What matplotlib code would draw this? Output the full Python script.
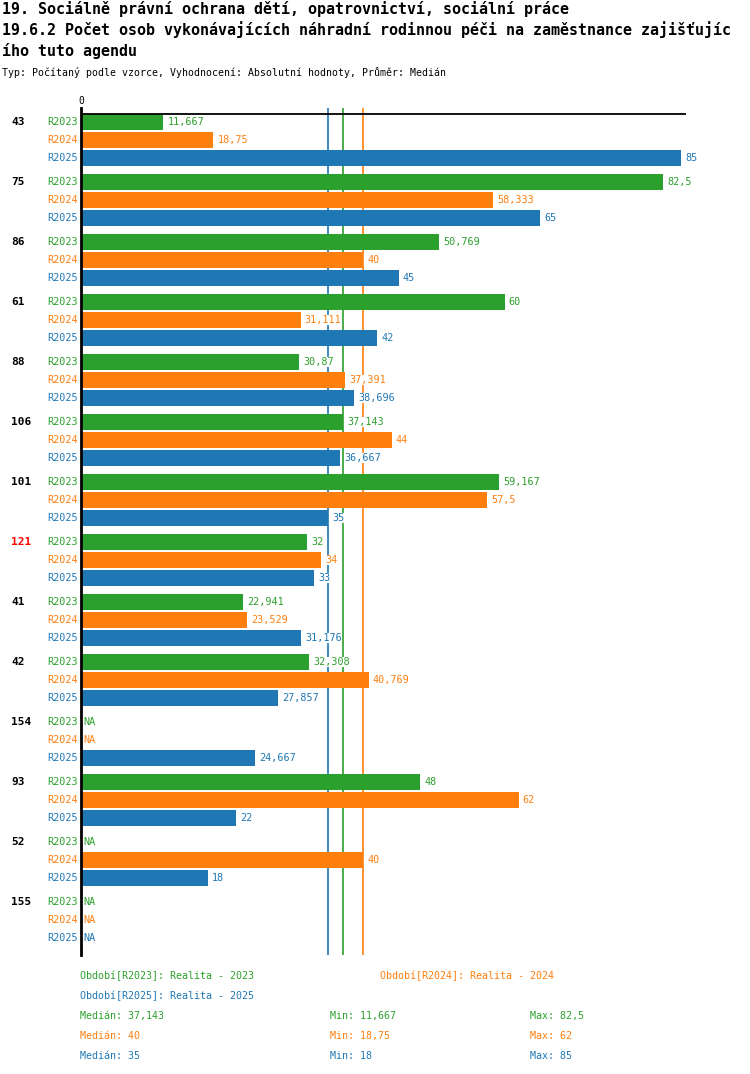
import matplotlib
matplotlib.use("Agg")
import matplotlib.pyplot as plt
import numpy as np

plt.rcParams['font.family'] = ['DejaVu Sans Mono']

groups = ["43", "75", "86", "61", "88", "106", "101", "121", "41", "42", "154", "93", "52", "155"]
series = ["R2023", "R2024", "R2025"]
r2023 = [11.667, 82.5, 50.769, 60, 30.87, 37.143, 59.167, 32, 22.941, 32.308, None, 48, None, None]
r2024 = [18.75, 58.333, 40, 31.111, 37.391, 44, 57.5, 34, 23.529, 40.769, None, 62, 40, None]
r2025 = [85, 65, 45, 42, 38.696, 36.667, 35, 33, 31.176, 27.857, 24.667, 22, 18, None]
highlight = ["121"]
colors = ["#2ca02c", "#ff7f0e", "#1f77b4"]
legend_names = ["Období[R2023]: Realita - 2023", "Období[R2024]: Realita - 2024", "Období[R2025]: Realita - 2025"]

title1 = "19. Sociálně právní ochrana dětí, opatrovnictví, sociální práce"
title2 = "19.6.2 Počet osob vykonávajících náhradní rodinnou péči na zaměstnance zajišťujíc"
title3 = "ího tuto agendu"
subtitle = "Typ: Počítaný podle vzorce, Vyhodnocení: Absolutní hodnoty, Průměr: Medián"

def fmt(v):
    s = ("%.3f" % v).rstrip("0").rstrip(".")
    return s.replace(".", ",")

W, H = 750, 1074
fig = plt.figure(figsize=(W / 100, H / 100), dpi=100)
ax_l, ax_r, ax_t, ax_b = 81, 686, 108, 955
ax = fig.add_axes([ax_l / W, 1 - ax_b / H, (ax_r - ax_l) / W, (ax_b - ax_t) / H])

data = [r2023, r2024, r2025]
gpitch, spitch = 10.0, 3.0
bar_h = 2.667
xmax = 85.7
ax.set_xlim(0, xmax)
ax.set_ylim((ax_b - 122) / 6.0, -(122 - ax_t) / 6.0)

bbox = dict(facecolor="white", edgecolor="none", pad=0.3)
for gi, g in enumerate(groups):
    for si, vals in enumerate(data):
        y = gi * gpitch + si * spitch
        v = vals[gi]
        c = colors[si]
        if v is not None:
            ax.barh(y, v, height=bar_h, color=c, zorder=2)
            ax.annotate(fmt(v), (v, y), xytext=(3, 0), textcoords="offset points",
                        ha="left", va="center", color=c, fontsize=7.3, zorder=5, bbox=bbox)
        else:
            ax.annotate("NA", (0, y), xytext=(2, 0), textcoords="offset points",
                        ha="left", va="center", color=c, fontsize=7.3)
        ax.annotate(series[si], (0, y), xytext=(-2.5, 0), textcoords="offset points",
                    ha="right", va="center", color=c, fontsize=7.3)
    ax.annotate(g, (0, gi * gpitch), xytext=(-70, 0), textcoords="offset pixels",
                ha="left", va="center", fontsize=8, fontweight="bold",
                color="red" if g in highlight else "black")

def median(vals):
    v = [x for x in vals if x is not None]
    return float(np.median(v))

stats = []
for si, vals in enumerate(data):
    v = [x for x in vals if x is not None]
    med = median(vals)
    stats.append((med, min(v), max(v)))
    ax.axvline(med, color=colors[si], lw=1.2, zorder=1)

ax.axhline(-(122 - 114) / 6.0, color="black", lw=1.3, zorder=4)
for s in ["top", "right", "bottom"]:
    ax.spines[s].set_visible(False)
ax.spines["left"].set_linewidth(2)
ax.spines["left"].set_zorder(6)
ax.set_yticks([])
ax.set_xticks([])
ax.text(0, 1.002, "0", transform=ax.get_xaxis_transform(), ha="center", va="bottom", fontsize=7)

# titles
fig.text(2 / W, 1 - 9 / H, title1, ha="left", va="center", fontsize=10.8, fontweight="bold")
fig.text(2 / W, 1 - 30 / H, title2, ha="left", va="center", fontsize=10.8, fontweight="bold")
fig.text(2 / W, 1 - 51 / H, title3, ha="left", va="center", fontsize=10.8, fontweight="bold")
fig.text(2 / W, 1 - 73 / H, subtitle, ha="left", va="center", fontsize=7.1)

# legend
fig.text(80 / W, 1 - 976 / H, legend_names[0], color=colors[0], ha="left", va="center", fontsize=7.2)
fig.text(380 / W, 1 - 976 / H, legend_names[1], color=colors[1], ha="left", va="center", fontsize=7.2)
fig.text(80 / W, 1 - 996 / H, legend_names[2], color=colors[2], ha="left", va="center", fontsize=7.2)
for si in range(3):
    yy = 1 - (1016 + 20 * si) / H
    med, mn, mx = stats[si]
    fig.text(80 / W, yy, "Medián: " + fmt(med), color=colors[si], ha="left", va="center", fontsize=7.2)
    fig.text(330 / W, yy, "Min: " + fmt(mn), color=colors[si], ha="left", va="center", fontsize=7.2)
    fig.text(530 / W, yy, "Max: " + fmt(mx), color=colors[si], ha="left", va="center", fontsize=7.2)

fig.savefig("out.png", dpi=100)
